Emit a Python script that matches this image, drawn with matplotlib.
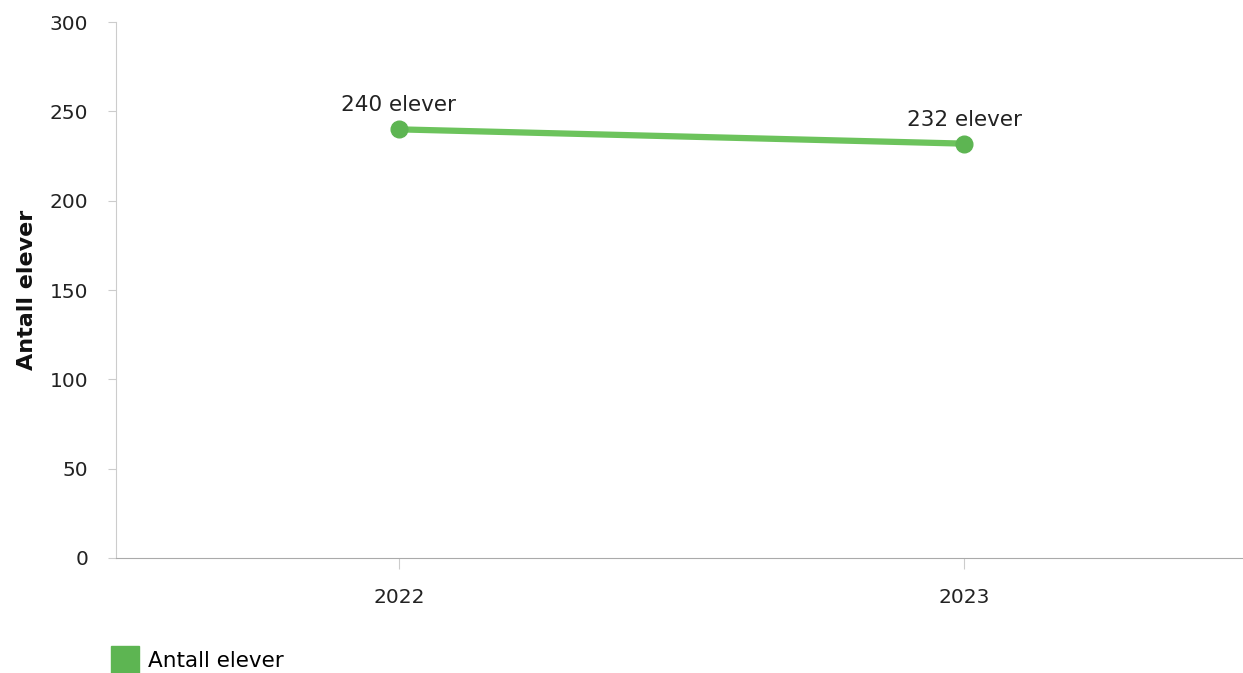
import matplotlib
matplotlib.use("Agg")
import matplotlib.pyplot as plt
from matplotlib.patches import Patch

years = ["2022", "2023"]
values = [240, 232]
labels = ["240 elever", "232 elever"]
yticks = [0, 50, 100, 150, 200, 250, 300]

plt.rcParams['font.family'] = ['DejaVu Sans']
fig = plt.figure(figsize=(12.43, 6.73), dpi=100)
ax = fig.add_axes([0.0933, 0.171, 0.91, 0.796])

x = list(range(len(years)))
ax.plot(x, values, color="#6cc35c", lw=4.5, solid_capstyle="round", zorder=3)
ax.plot(x, values, "o", color="#5db552", ms=12, zorder=4)
for xi, v, lab in zip(x, values, labels):
    ax.annotate(lab, (xi, v), xytext=(0, 10), textcoords="offset points",
                ha="center", va="bottom", fontsize=15.5, color="#222222")

ax.set_xlim(-0.5, 1.5)
ax.set_ylim(0, 300)
ax.set_yticks(yticks)
ax.set_xticks(x)
ax.set_xticklabels(years)
ax.tick_params(axis="y", length=6, color="#cccccc", labelsize=14.5, labelcolor="#222222", pad=14)
ax.tick_params(axis="x", length=8, color="#cccccc", labelsize=14.5, labelcolor="#222222", pad=14)
for s in ["top", "right"]:
    ax.spines[s].set_visible(False)
ax.spines["left"].set_color("#cccccc")
ax.spines["bottom"].set_color("#aaaaaa")
ax.set_ylabel("Antall elever", fontsize=16, fontweight="bold", labelpad=9, color="#111111")

fig.legend(handles=[Patch(color="#5db552", label="Antall elever")],
           loc="lower left", bbox_to_anchor=(0.074, -0.03), frameon=False,
           fontsize=15.5, handlelength=1.3, handleheight=1.6, handletextpad=0.4)

fig.savefig("out.png", dpi=100, facecolor="white")
